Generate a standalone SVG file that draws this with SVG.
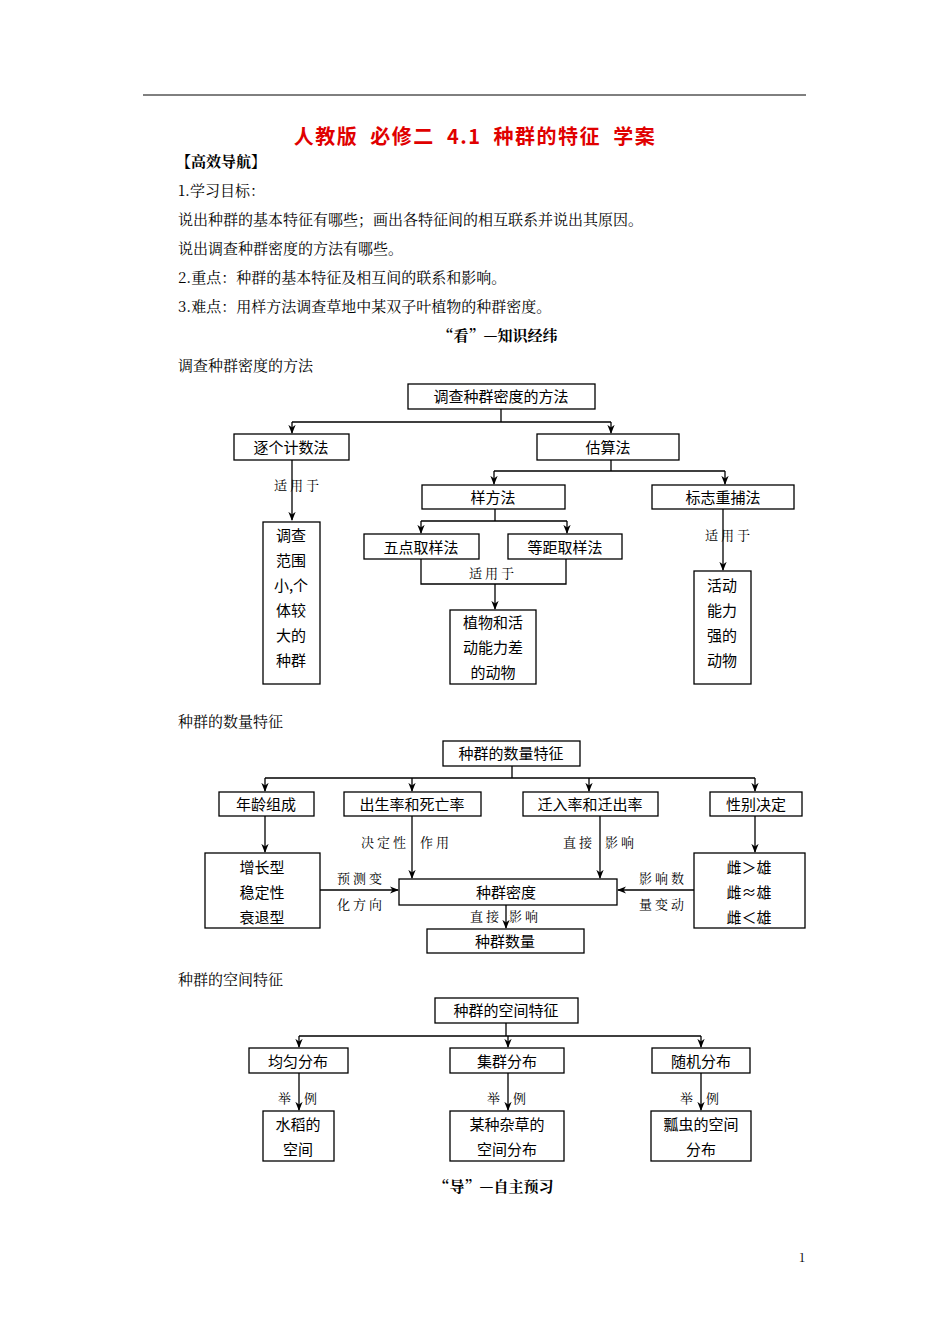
<svg xmlns="http://www.w3.org/2000/svg" width="950" height="1344" viewBox="0 0 950 1344">
<style>
text{font-family:"Noto Serif CJK SC","Noto Sans CJK SC",serif;fill:#000}
.t{font-size:15px}
.b{font-size:15px;text-anchor:middle;font-family:"Noto Sans CJK SC",sans-serif}
.s{font-size:13px;letter-spacing:3px}
.c{text-anchor:middle}
.r{text-anchor:end}
rect{fill:#fff;stroke:#000;stroke-width:1.3}
.ln{fill:none;stroke:#000;stroke-width:1.3}
</style>
<defs><marker id="a" viewBox="0 0 10 10" refX="9" refY="5" markerWidth="7" markerHeight="7" orient="auto"><path d="M0,1 L10,5 L0,9 L3,5Z" fill="#000"/></marker></defs>
<rect x="0" y="0" width="950" height="1344" style="stroke:none"/>
<line x1="143" y1="95" x2="806" y2="95" stroke="#000" stroke-width="1"/>
<text x="475" y="144" class="c" xml:space="preserve" style="font-size:20px;font-weight:bold;fill:#e00000;font-family:'Noto Sans CJK SC',sans-serif;letter-spacing:1.5px">人教版  必修二  4.1  种群的特征  学案</text>
<text x="176" y="167" class="t" style="font-weight:bold">【高效导航】</text>
<text x="178" y="196" class="t">1.学习目标：</text>
<text x="178" y="225" class="t">说出种群的基本特征有哪些；画出各特征间的相互联系并说出其原因。</text>
<text x="178" y="254" class="t">说出调查种群密度的方法有哪些。</text>
<text x="178" y="283" class="t">2.重点：种群的基本特征及相互间的联系和影响。</text>
<text x="178" y="312" class="t">3.难点：用样方法调查草地中某双子叶植物的种群密度。</text>
<text x="498" y="341" class="t c" style="font-weight:bold">“看”—知识经纬</text>
<text x="178" y="371" class="t">调查种群密度的方法</text>

<g id="connectors">
<path class="ln" d="M501,409V422M292,422H611"/>
<path class="ln" d="M292,422V433" marker-end="url(#a)"/><path class="ln" d="M611,422V433" marker-end="url(#a)"/>
<path class="ln" d="M292,460V520" marker-end="url(#a)"/>
<path class="ln" d="M611,460V471M494,471H725"/>
<path class="ln" d="M494,471V484" marker-end="url(#a)"/><path class="ln" d="M725,471V484" marker-end="url(#a)"/>
<path class="ln" d="M495,509V521M421,521H567"/>
<path class="ln" d="M421,521V533" marker-end="url(#a)"/><path class="ln" d="M567,521V533" marker-end="url(#a)"/>
<path class="ln" d="M421,559V584H566V559"/>
<path class="ln" d="M495,584V609" marker-end="url(#a)"/>
<path class="ln" d="M723,509V570" marker-end="url(#a)"/>

<path class="ln" d="M512,766V778M265,778H755"/>
<path class="ln" d="M265,778V791" marker-end="url(#a)"/><path class="ln" d="M412,778V791" marker-end="url(#a)"/>
<path class="ln" d="M589,778V791" marker-end="url(#a)"/><path class="ln" d="M755,778V791" marker-end="url(#a)"/>
<path class="ln" d="M265,816V852" marker-end="url(#a)"/>
<path class="ln" d="M755,816V852" marker-end="url(#a)"/>
<path class="ln" d="M412,816V878" marker-end="url(#a)"/>
<path class="ln" d="M600,816V878" marker-end="url(#a)"/>
<path class="ln" d="M320,890H398" marker-end="url(#a)"/>
<path class="ln" d="M694,890H618" marker-end="url(#a)"/>
<path class="ln" d="M506,905V928" marker-end="url(#a)"/>

<path class="ln" d="M506,1023V1036M299,1036H701"/>
<path class="ln" d="M299,1036V1047" marker-end="url(#a)"/><path class="ln" d="M508,1036V1047" marker-end="url(#a)"/><path class="ln" d="M701,1036V1047" marker-end="url(#a)"/>
<path class="ln" d="M299,1073V1110" marker-end="url(#a)"/><path class="ln" d="M508,1073V1110" marker-end="url(#a)"/><path class="ln" d="M701,1073V1110" marker-end="url(#a)"/>

<text x="298" y="490" class="s c">适用于</text>
<text x="493" y="578" class="s c">适用于</text>
<text x="729" y="540" class="s c">适用于</text>
<text x="409" y="847" class="s r">决定性</text><text x="420" y="847" class="s">作用</text>
<text x="595" y="847" class="s r">直接</text><text x="605" y="847" class="s">影响</text>
<text x="361" y="883" class="s c">预测变</text><text x="361" y="909" class="s c">化方向</text>
<text x="663" y="883" class="s c">影响数</text><text x="663" y="909" class="s c">量变动</text>
<text x="502" y="921" class="s r">直接</text><text x="509" y="921" class="s">影响</text>
<text x="294" y="1103" class="s r">举</text><text x="304" y="1103" class="s">例</text>
<text x="503" y="1103" class="s r">举</text><text x="513" y="1103" class="s">例</text>
<text x="696" y="1103" class="s r">举</text><text x="706" y="1103" class="s">例</text>
</g>

<g id="n1"><rect x="408" y="384" width="187" height="25"/><text x="501" y="402" class="b">调查种群密度的方法</text></g>
<g id="n2"><rect x="234" y="434" width="115" height="26"/><text x="291" y="453" class="b">逐个计数法</text></g>
<g id="n3"><rect x="537" y="434" width="142" height="26"/><text x="608" y="453" class="b">估算法</text></g>
<g id="n4"><rect x="263" y="522" width="57" height="162"/><text class="b"><tspan x="291" y="541">调查</tspan><tspan x="291" y="566">范围</tspan><tspan x="291" y="591">小,个</tspan><tspan x="291" y="616">体较</tspan><tspan x="291" y="641">大的</tspan><tspan x="291" y="666">种群</tspan></text></g>
<g id="n5"><rect x="422" y="485" width="143" height="24"/><text x="493" y="503" class="b">样方法</text></g>
<g id="n6"><rect x="652" y="485" width="142" height="24"/><text x="723" y="503" class="b">标志重捕法</text></g>
<g id="n7"><rect x="364" y="534" width="115" height="25"/><text x="421" y="553" class="b">五点取样法</text></g>
<g id="n8"><rect x="508" y="534" width="114" height="25"/><text x="565" y="553" class="b">等距取样法</text></g>
<g id="n9"><rect x="450" y="610" width="86" height="74"/><text class="b"><tspan x="493" y="628">植物和活</tspan><tspan x="493" y="653">动能力差</tspan><tspan x="493" y="678">的动物</tspan></text></g>
<g id="n10"><rect x="694" y="571" width="57" height="113"/><text class="b"><tspan x="722" y="591">活动</tspan><tspan x="722" y="616">能力</tspan><tspan x="722" y="641">强的</tspan><tspan x="722" y="666">动物</tspan></text></g>

<text x="178" y="727" class="t">种群的数量特征</text>
<g id="m1"><rect x="443" y="741" width="137" height="25"/><text x="511" y="759" class="b">种群的数量特征</text></g>
<g id="m2"><rect x="219" y="792" width="95" height="24"/><text x="266" y="810" class="b">年龄组成</text></g>
<g id="m3"><rect x="344" y="792" width="137" height="24"/><text x="412" y="810" class="b">出生率和死亡率</text></g>
<g id="m4"><rect x="523" y="792" width="135" height="24"/><text x="590" y="810" class="b">迁入率和迁出率</text></g>
<g id="m5"><rect x="710" y="792" width="92" height="24"/><text x="756" y="810" class="b">性别决定</text></g>
<g id="m6"><rect x="205" y="853" width="115" height="75"/><text class="b"><tspan x="262" y="873">增长型</tspan><tspan x="262" y="898">稳定性</tspan><tspan x="262" y="923">衰退型</tspan></text></g>
<g id="m7"><rect x="399" y="879" width="218" height="26"/><text x="506" y="898" class="b">种群密度</text></g>
<g id="m8"><rect x="694" y="853" width="111" height="75"/><text class="b"><tspan x="749" y="873">雌＞雄</tspan><tspan x="749" y="898">雌≈雄</tspan><tspan x="749" y="923">雌＜雄</tspan></text></g>
<g id="m9"><rect x="427" y="929" width="157" height="24"/><text x="505" y="947" class="b">种群数量</text></g>

<text x="178" y="985" class="t">种群的空间特征</text>
<g id="k1"><rect x="435" y="998" width="143" height="25"/><text x="506" y="1016" class="b">种群的空间特征</text></g>
<g id="k2"><rect x="249" y="1048" width="99" height="25"/><text x="298" y="1067" class="b">均匀分布</text></g>
<g id="k3"><rect x="450" y="1048" width="114" height="25"/><text x="507" y="1067" class="b">集群分布</text></g>
<g id="k4"><rect x="652" y="1048" width="98" height="25"/><text x="701" y="1067" class="b">随机分布</text></g>
<g id="k5"><rect x="263" y="1111" width="71" height="50"/><text class="b"><tspan x="298" y="1130">水稻的</tspan><tspan x="298" y="1155">空间</tspan></text></g>
<g id="k6"><rect x="450" y="1111" width="114" height="50"/><text class="b"><tspan x="507" y="1130">某种杂草的</tspan><tspan x="507" y="1155">空间分布</tspan></text></g>
<g id="k7"><rect x="651" y="1111" width="100" height="50"/><text class="b"><tspan x="701" y="1130">瓢虫的空间</tspan><tspan x="701" y="1155">分布</tspan></text></g>

<text x="494" y="1192" class="t c" style="font-weight:bold">“导”—自主预习</text>
<text x="802" y="1262" class="c" style="font-size:12px">1</text>
</svg>
